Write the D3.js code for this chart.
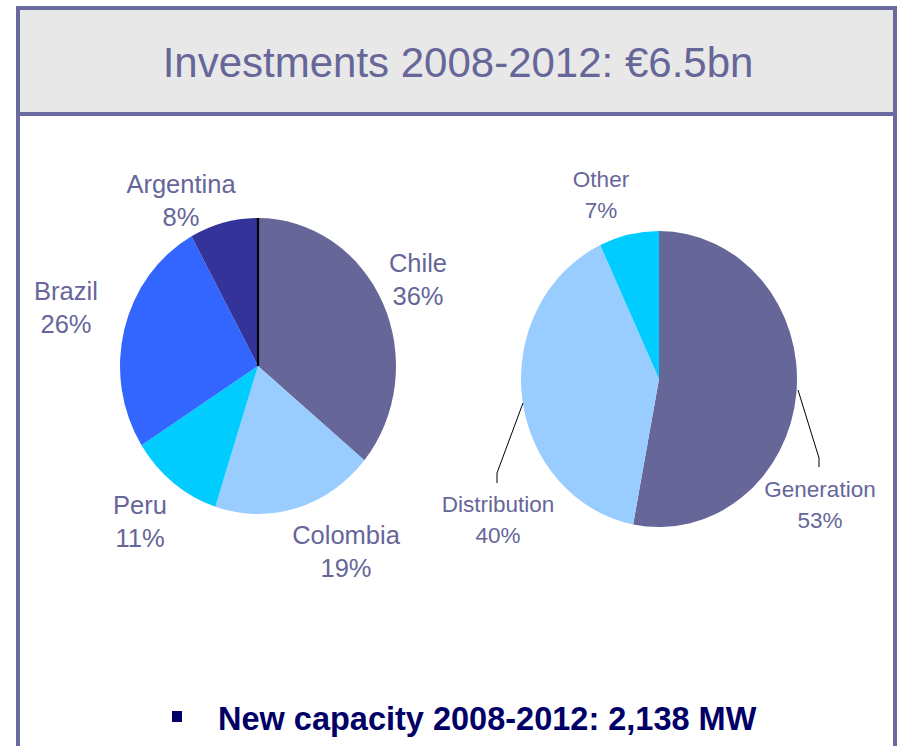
<!DOCTYPE html>
<html>
<head>
<meta charset="utf-8">
<script src="https://cdn.jsdelivr.net/npm/d3@7"></script>
<style>
  html, body { margin: 0; padding: 0; background: #ffffff; }
  svg { display: block; }
  text { font-family: "Liberation Sans", Arial, sans-serif; }
</style>
</head>
<body>
<svg id="chart" width="897" height="746"></svg>
<script>
// Investment split by country
const countries = ["Chile", "Colombia", "Peru", "Brazil", "Argentina"];
const countryShares = [36, 19, 11, 26, 8];
const countryColors = ["#666699", "#99ccff", "#00ccff", "#3366ff", "#333399"];

// Investment split by business line
const businesses = ["Generation", "Distribution", "Other"];
const businessShares = [53, 40, 7];
const businessColors = ["#666699", "#99ccff", "#00ccff"];

const titleText = "Investments 2008-2012: \u20ac6.5bn";
const bulletText = "New capacity 2008-2012: 2,138 MW";

const svg = d3.select("#chart");
const W = 897, H = 746;
const frameColor = "#6a6a9e";
const labelColor = "#666699";

// Frame with grey header band
svg.append("rect").attr("x", 18).attr("y", 8).attr("width", 877).attr("height", 106)
  .attr("fill", "#e8e8e8");
svg.append("line").attr("x1", 18).attr("x2", 18).attr("y1", 6).attr("y2", H)
  .attr("stroke", frameColor).attr("stroke-width", 4);
svg.append("line").attr("x1", 895).attr("x2", 895).attr("y1", 6).attr("y2", H)
  .attr("stroke", frameColor).attr("stroke-width", 4);
svg.append("line").attr("x1", 16).attr("x2", 897).attr("y1", 8).attr("y2", 8)
  .attr("stroke", frameColor).attr("stroke-width", 4);
svg.append("line").attr("x1", 16).attr("x2", 897).attr("y1", 114).attr("y2", 114)
  .attr("stroke", frameColor).attr("stroke-width", 4);

svg.append("text").attr("x", 458).attr("y", 77).attr("text-anchor", "middle")
  .attr("font-size", 42).attr("fill", labelColor).text(titleText);

const pie = d3.pie().sort(null).value(d => d);
const R = 138, yStretch = 148 / 138;

function drawPie(cx, cy, values, colors) {
  const g = svg.append("g").attr("transform", `translate(${cx},${cy}) scale(1,${yStretch})`);
  const arc = d3.arc().innerRadius(0).outerRadius(R);
  g.selectAll("path").data(pie(values)).join("path")
    .attr("d", arc).attr("fill", (d, i) => colors[i]);
  return g;
}

// Country pie
const g1 = drawPie(258, 366, countryShares, countryColors);
g1.append("line").attr("x1", 0).attr("y1", 0).attr("x2", 0).attr("y2", -R)
  .attr("stroke", "#000000").attr("stroke-width", 2.2);

// Business pie
drawPie(659, 379, businessShares, businessColors);

function label(x, y, name, share, size, gap) {
  const t = svg.append("text").attr("text-anchor", "middle").attr("font-size", size)
    .attr("fill", labelColor);
  t.append("tspan").attr("x", x).attr("y", y).text(name);
  t.append("tspan").attr("x", x).attr("y", y + gap).text(share + "%");
}

const countryLabelPos = [[418, 272], [346, 544], [140, 514], [66, 300], [181, 193]];
countries.forEach((c, i) =>
  label(countryLabelPos[i][0], countryLabelPos[i][1], c, countryShares[i], 25.5, 33));

const businessLabelPos = [[820, 497], [498, 512], [601, 187]];
businesses.forEach((b, i) =>
  label(businessLabelPos[i][0], businessLabelPos[i][1], b, businessShares[i], 22.5, 31));

// Leader lines for the business pie
const leader = d3.line();
svg.append("path").attr("d", leader([[523, 403], [497, 473], [497, 483]]))
  .attr("fill", "none").attr("stroke", "#000").attr("stroke-width", 1);
svg.append("path").attr("d", leader([[798, 390], [819, 458], [819, 467]]))
  .attr("fill", "none").attr("stroke", "#000").attr("stroke-width", 1);

// Bullet line
svg.append("rect").attr("x", 172).attr("y", 711).attr("width", 10).attr("height", 11)
  .attr("fill", "#000066");
svg.append("text").attr("x", 218).attr("y", 730).attr("font-size", 32.5)
  .attr("font-weight", "bold").attr("fill", "#000066").text(bulletText);
</script>
</body>
</html>
